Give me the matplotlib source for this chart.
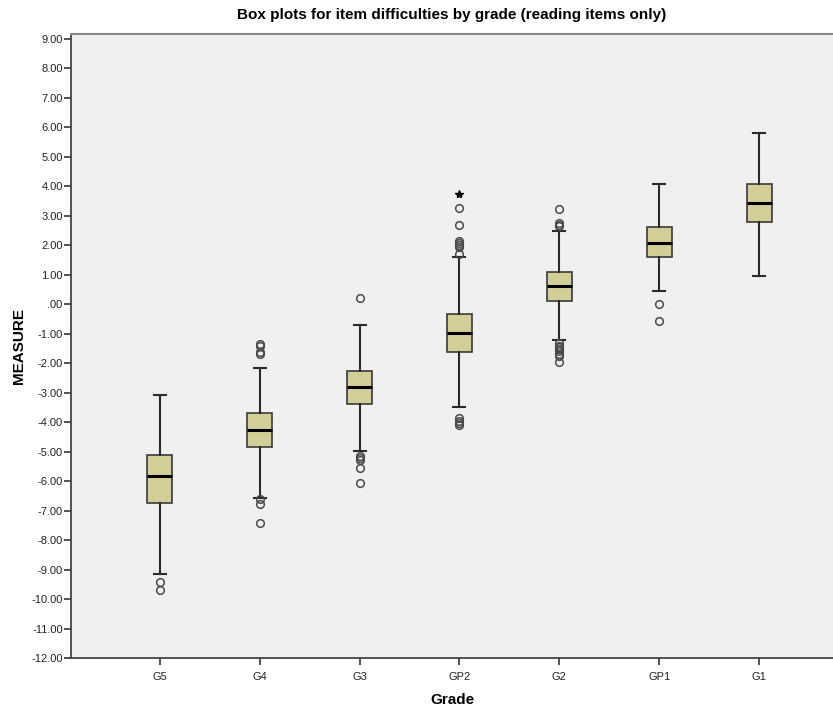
import matplotlib
matplotlib.use("Agg")
import matplotlib.pyplot as plt

plt.rcParams['font.family'] = ['Liberation Sans', 'DejaVu Sans']

grades = ["G5", "G4", "G3", "GP2", "G2", "GP1", "G1"]
q1 = [-6.75, -4.85, -3.40, -1.63, 0.11, 1.62, 2.79]
med = [-5.82, -4.25, -2.82, -0.97, 0.63, 2.07, 3.45]
q3 = [-5.11, -3.68, -2.25, -0.33, 1.11, 2.61, 4.08]
whislo = [-9.14, -6.57, -4.98, -3.49, -1.21, 0.46, 0.95]
whishi = [-3.09, -2.17, -0.71, 1.59, 2.49, 4.07, 5.82]
outliers = [
    [-9.42, -9.71],
    [-1.36, -1.42, -1.62, -1.68, -6.62, -6.77, -7.41],
    [0.21, -5.15, -5.22, -5.28, -5.56, -6.06],
    [3.26, 2.68, 2.15, 2.08, 2.02, 1.95, 1.71, -3.85, -3.95, -4.03, -4.10],
    [3.23, 2.76, 2.70, 2.65, -1.32, -1.40, -1.46, -1.53, -1.60, -1.68, -1.75, -1.96],
    [0.0, -0.57],
    [],
]
extremes = [[], [], [], [3.75], [], [], []]

fig = plt.figure(figsize=(8.33, 7.06), dpi=100)
ax = fig.add_axes([0.0852, 0.068, 0.9148, 0.8839])
ax.set_facecolor("#F0F0F0")

stats = []
for i, g in enumerate(grades):
    stats.append(dict(label=g, q1=q1[i], med=med[i], q3=q3[i],
                      whislo=whislo[i], whishi=whishi[i], fliers=outliers[i]))

ax.bxp(stats, positions=range(len(grades)), widths=0.25, patch_artist=True,
       boxprops=dict(facecolor="#D3CE97", edgecolor="#3A3A3A", linewidth=1.2),
       medianprops=dict(color="black", linewidth=2.2),
       whiskerprops=dict(color="#2A2A2A", linewidth=1.5),
       capprops=dict(color="#2A2A2A", linewidth=1.5),
       capwidths=0.12,
       flierprops=dict(marker="o", markersize=5.5, markerfacecolor="none",
                       markeredgecolor="#4A4A4A", markeredgewidth=1.1))

for i, ex in enumerate(extremes):
    if ex:
        ax.plot([i] * len(ex), ex, linestyle="none", marker="*", markersize=6,
                color="black")

ax.set_xlim(-0.89, 6.74)
ax.set_ylim(-12.0, 9.17)
yt = list(range(-12, 10))
ax.set_yticks(yt)
ax.set_yticklabels([".00" if v == 0 else f"{v:.2f}" for v in yt],
                   fontsize=8, color="#222222")
ax.set_xticks(range(len(grades)))
ax.set_xticklabels(grades, fontsize=8, color="#222222")
ax.tick_params(axis="both", direction="out", length=5, width=1.2, color="#333333")
ax.tick_params(axis="x", pad=5)
ax.tick_params(axis="y", pad=1)

for s in ["left", "bottom"]:
    ax.spines[s].set_color("#444444")
    ax.spines[s].set_linewidth(1.3)
ax.spines["top"].set_color("#888888")
ax.spines["top"].set_linewidth(1.5)
ax.spines["right"].set_visible(False)

ax.set_title("Box plots for item difficulties by grade (reading items only)",
             fontsize=11, fontweight="bold", pad=11)
ax.set_xlabel("Grade", fontsize=11, fontweight="bold", labelpad=8)
ax.set_ylabel("MEASURE", fontsize=11, fontweight="bold", labelpad=4)

fig.savefig("out.png", dpi=100)
